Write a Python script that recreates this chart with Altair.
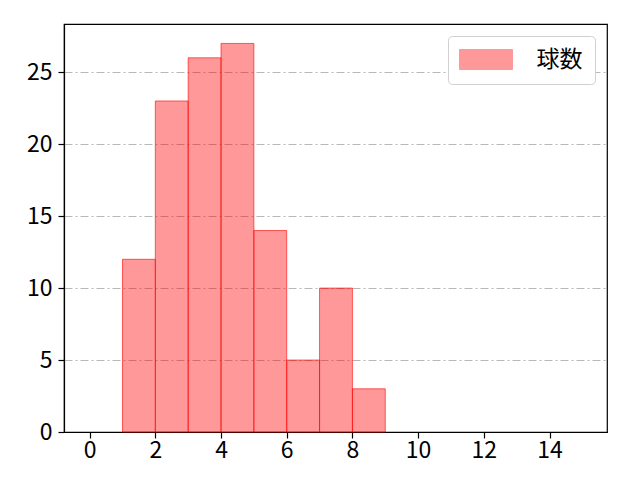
import altair as alt
import pandas as pd

bin_start = [1, 2, 3, 4, 5, 6, 7, 8]
bin_end = [2, 3, 4, 5, 6, 7, 8, 9]
counts = [12, 23, 26, 27, 14, 5, 10, 3]
series = ["球数"] * len(counts)

df = pd.DataFrame({"start": bin_start, "end": bin_end, "count": counts, "series": series})

FONT = "Noto Sans CJK JP"
FS = 23

bars = alt.Chart(df).mark_bar(
    fillOpacity=0.4, stroke="red", strokeOpacity=0.6, strokeWidth=1
).encode(
    x=alt.X("start:Q", scale=alt.Scale(domain=[-0.78, 15.75], nice=False, zero=False, padding=0),
            axis=alt.Axis(values=[0, 2, 4, 6, 8, 10, 12, 14], grid=False, title=None,
                          tickSize=6, labelFontSize=FS, labelPadding=1, domainColor="black",
                          tickColor="black", labelColor="black", domainWidth=1.2, tickWidth=1.2,
                          labelFlush=False)),
    x2="end:Q",
    y=alt.Y("count:Q", scale=alt.Scale(domain=[0, 28.35], nice=False, padding=0),
            axis=alt.Axis(values=[0, 5, 10, 15, 20, 25], grid=True, gridColor="#b0b0b0",
                          gridDash=[8, 3, 2, 3], gridWidth=0.9, title=None, tickSize=6,
                          labelFontSize=FS, labelPadding=6, domainColor="black",
                          tickColor="black", labelColor="black", domainWidth=1.2, tickWidth=1.2)),
    y2=alt.datum(0),
    color=alt.Color("series:N", scale=alt.Scale(range=["red"]),
                    legend=alt.Legend(title=None, orient="top-right", offset=12,
                                      symbolType="M-2.65,-1L2.65,-1L2.65,1L-2.65,1Z",
                                      symbolSize=400, symbolStrokeColor="red",
                                      symbolOpacity=0.4, symbolStrokeWidth=1,
                                      symbolOffset=14.5,
                                      labelFontSize=FS, labelFont=FONT, labelColor="black",
                                      padding=12, strokeColor="#d0d0d0", fillColor="white",
                                      cornerRadius=4, labelOffset=39)),
)

chart = bars.properties(
    width=543, height=408,
    autosize=alt.AutoSizeParams(type="none"),
    padding={"left": 56, "top": 16, "right": 20, "bottom": 40},
).configure(
    font=FONT
).configure_view(
    stroke="black", strokeWidth=1.2
).configure_axis(labelFont=FONT)

chart.save("out.html", embed_options={"renderer": "svg", "actions": False})
